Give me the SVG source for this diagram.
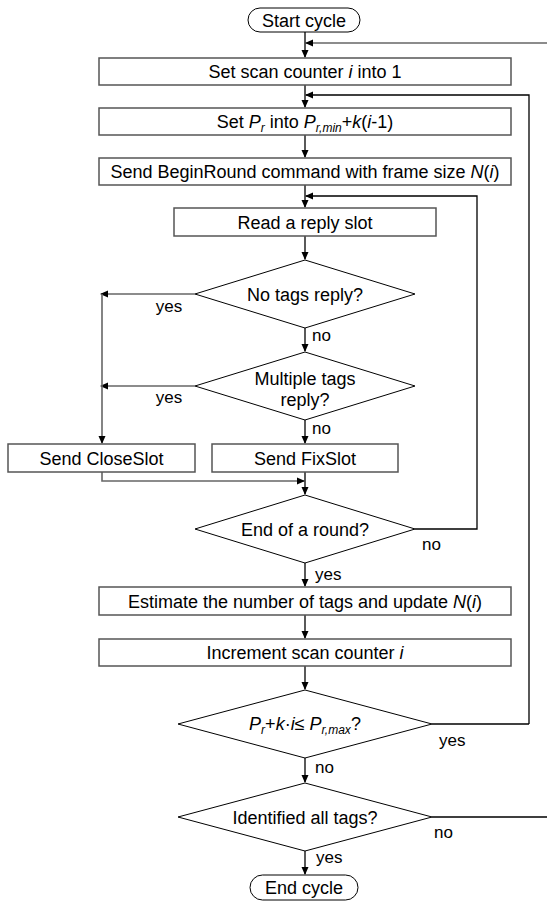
<svg xmlns="http://www.w3.org/2000/svg" width="547" height="902" viewBox="0 0 547 902">
<style>
  text { font-family: "Liberation Sans", Arial, sans-serif; font-size: 18px; fill: #000; }
  .lbl { font-size: 17px; }
  .box { fill: #fff; stroke: #555; stroke-width: 1.5; }
  .dia { fill: #fff; stroke: #000; stroke-width: 1; }
  .term { fill: #fff; stroke: #000; stroke-width: 1; }
  .c { fill: none; stroke: #000; stroke-width: 1.3; }
  .g { fill: none; stroke: #666; stroke-width: 1.6; }
  .i { font-style: italic; }
  .s { font-size: 12px; font-style: italic; }
</style>
<defs>
  <marker id="ah" markerWidth="8" markerHeight="8" refX="7" refY="4" orient="auto" markerUnits="userSpaceOnUse">
    <path d="M0,0.5 L8,4 L0,7.5 Z" fill="#000"/>
  </marker>
</defs>
<rect width="547" height="902" fill="#fff"/>

<g id="connectors">
  <path class="c" d="M305,32 V57" marker-end="url(#ah)"/>
  <path class="g" d="M550,43 H306" marker-end="url(#ah)"/>
  <path class="c" d="M305,85 V107" marker-end="url(#ah)"/>
  <path class="c" d="M529,724 V95 H306" marker-end="url(#ah)"/>
  <path class="c" d="M305,135 V157" marker-end="url(#ah)"/>
  <path class="c" d="M305,185 V207" marker-end="url(#ah)"/>
  <path class="c" d="M415,529 H477 V196 H306" marker-end="url(#ah)"/>
  <path class="c" d="M305,236 V259" marker-end="url(#ah)"/>
  <path class="g" d="M195,294 H101" marker-end="url(#ah)"/>
  <path class="c" d="M305,328 V351" marker-end="url(#ah)"/>
  <path class="g" d="M195,386 H101" marker-end="url(#ah)"/>
  <path class="g" d="M102,294 V443" marker-end="url(#ah)"/>
  <path class="c" d="M305,420 V443" marker-end="url(#ah)"/>
  <path class="g" d="M102,472 V481 H304" marker-end="url(#ah)"/>
  <path class="c" d="M305,472 V494" marker-end="url(#ah)"/>
  <path class="c" d="M305,563 V586" marker-end="url(#ah)"/>
  <path class="c" d="M305,615 V638" marker-end="url(#ah)"/>
  <path class="c" d="M305,666 V689" marker-end="url(#ah)"/>
  <path class="c" d="M432,724 H529"/>
  <path class="c" d="M305,758 V782" marker-end="url(#ah)"/>
  <path class="c" d="M432,817 H550 V43"/>
  <path class="c" d="M305,851 V874" marker-end="url(#ah)"/>
</g>

<g id="start">
  <rect class="term" x="248" y="8" width="112" height="24" rx="12"/>
  <text x="304" y="26.5" text-anchor="middle">Start cycle</text>
</g>
<g id="set-counter">
  <rect class="box" x="99" y="58" width="412" height="27"/>
  <text x="305" y="78" text-anchor="middle">Set scan counter <tspan class="i">i</tspan> into 1</text>
</g>
<g id="set-pr">
  <rect class="box" x="99" y="108" width="412" height="27"/>
  <text x="305" y="128" text-anchor="middle">Set <tspan class="i">P</tspan><tspan class="s" dy="4">r</tspan><tspan dy="-4"> into </tspan><tspan class="i">P</tspan><tspan class="s" dy="4">r,min</tspan><tspan dy="-4">+</tspan><tspan class="i">k</tspan>(<tspan class="i">i</tspan>-1)</text>
</g>
<g id="begin-round">
  <rect class="box" x="99" y="158" width="412" height="27"/>
  <text x="305" y="178" text-anchor="middle">Send BeginRound command with frame size <tspan class="i">N</tspan>(<tspan class="i">i</tspan>)</text>
</g>
<g id="read-slot">
  <rect class="box" x="174" y="208" width="262" height="28"/>
  <text x="305" y="228.5" text-anchor="middle">Read a reply slot</text>
</g>
<g id="no-tags">
  <polygon class="dia" points="305,260 415,294 305,328 195,294"/>
  <text x="305" y="300.5" text-anchor="middle">No tags reply?</text>
  <text class="lbl" x="169" y="312" text-anchor="middle">yes</text>
  <text class="lbl" x="312" y="341">no</text>
</g>
<g id="multiple-tags">
  <polygon class="dia" points="305,352 415,386 305,420 195,386"/>
  <text x="305" y="385" text-anchor="middle">Multiple tags</text>
  <text x="305" y="406" text-anchor="middle">reply?</text>
  <text class="lbl" x="169" y="403" text-anchor="middle">yes</text>
  <text class="lbl" x="312" y="434">no</text>
</g>
<g id="close-slot">
  <rect class="box" x="8" y="444" width="187" height="28"/>
  <text x="101.5" y="464.5" text-anchor="middle">Send CloseSlot</text>
</g>
<g id="fix-slot">
  <rect class="box" x="212" y="444" width="186" height="28"/>
  <text x="305" y="464.5" text-anchor="middle">Send FixSlot</text>
</g>
<g id="end-round">
  <polygon class="dia" points="305,495 415,529 305,563 195,529"/>
  <text x="305" y="535.5" text-anchor="middle">End of a round?</text>
  <text class="lbl" x="422" y="550">no</text>
  <text class="lbl" x="315" y="580">yes</text>
</g>
<g id="estimate">
  <rect class="box" x="99" y="587" width="412" height="28"/>
  <text x="305" y="607.5" text-anchor="middle">Estimate the number of tags and update <tspan class="i">N</tspan>(<tspan class="i">i</tspan>)</text>
</g>
<g id="increment">
  <rect class="box" x="99" y="639" width="412" height="27"/>
  <text x="305" y="659" text-anchor="middle">Increment scan counter <tspan class="i">i</tspan></text>
</g>
<g id="power-check">
  <polygon class="dia" points="305,690 432,724 305,758 178,724"/>
  <text x="305" y="730" text-anchor="middle"><tspan class="i">P</tspan><tspan class="s" dy="4">r</tspan><tspan dy="-4">+</tspan><tspan class="i">k</tspan>·<tspan class="i">i</tspan>≤ <tspan class="i">P</tspan><tspan class="s" dy="4">r,max</tspan><tspan dy="-4">?</tspan></text>
  <text class="lbl" x="439" y="746">yes</text>
  <text class="lbl" x="315" y="773">no</text>
</g>
<g id="identified">
  <polygon class="dia" points="305,783 432,817 305,851 178,817"/>
  <text x="305" y="823.5" text-anchor="middle">Identified all tags?</text>
  <text class="lbl" x="434" y="838">no</text>
  <text class="lbl" x="316" y="863">yes</text>
</g>
<g id="end">
  <rect class="term" x="250" y="875" width="108" height="25" rx="12.5"/>
  <text x="304" y="894" text-anchor="middle">End cycle</text>
</g>
</svg>
